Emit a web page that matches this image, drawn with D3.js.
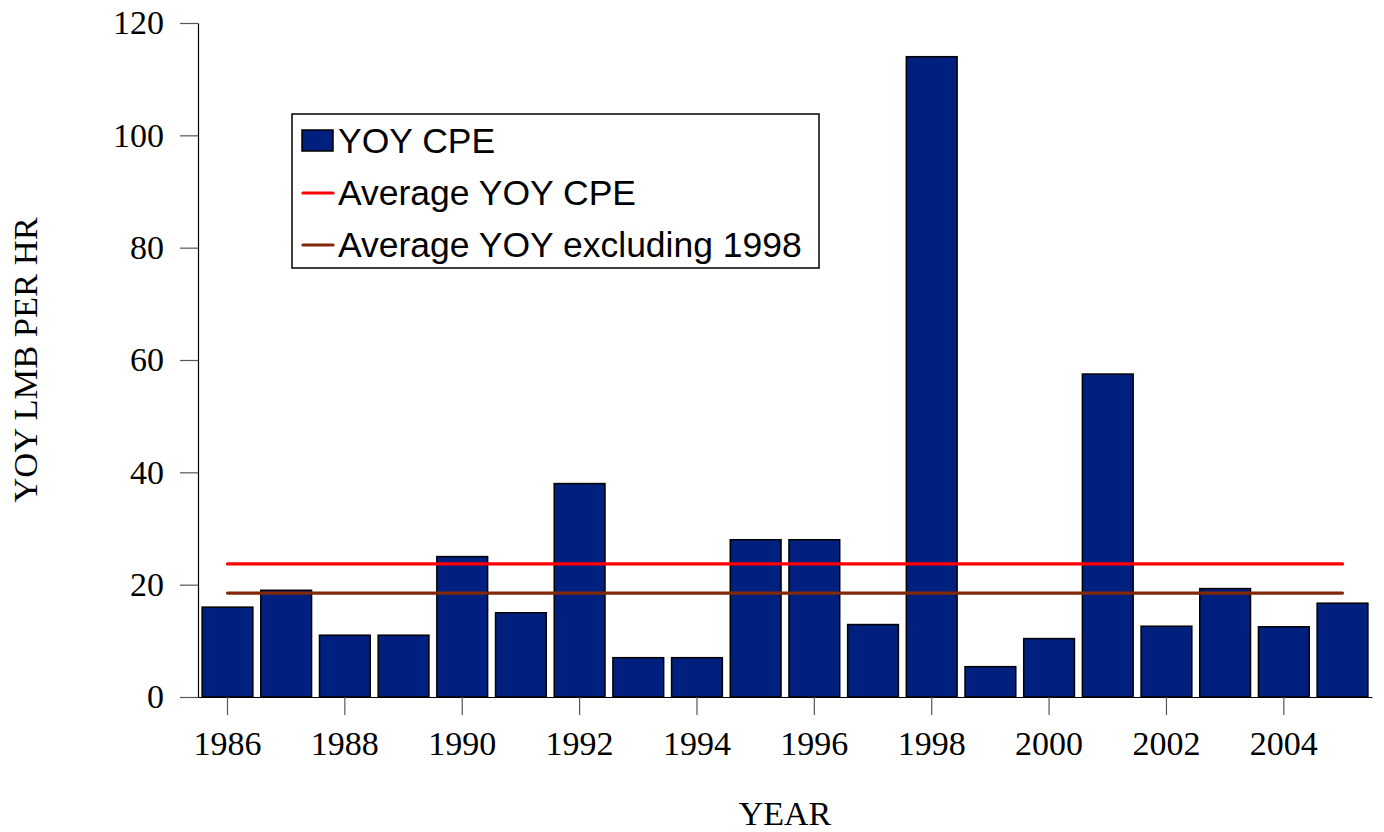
<!DOCTYPE html>
<html>
<head>
<meta charset="utf-8">
<script src="https://cdn.jsdelivr.net/npm/d3@7"></script>
<style>
  body { margin: 0; background: #fff; }
  svg text { fill: #000; }
</style>
</head>
<body>
<div id="chart"></div>
<script>
// Values
const years = [1986, 1987, 1988, 1989, 1990, 1991, 1992, 1993, 1994, 1995,
               1996, 1997, 1998, 1999, 2000, 2001, 2002, 2003, 2004, 2005];
const yoyCpe = [16, 19, 11, 11, 25, 15, 38, 7, 7, 28,
                28, 12.9, 114, 5.4, 10.4, 57.5, 12.6, 19.3, 12.5, 16.7];
const avgYoy = 23.7;
const avgExcl1998 = 18.5;
const yTicks = [0, 20, 40, 60, 80, 100, 120];
const xTickYears = [1986, 1988, 1990, 1992, 1994, 1996, 1998, 2000, 2002, 2004];
const legendLabels = ['YOY CPE', 'Average YOY CPE', 'Average YOY excluding 1998'];

const width = 1384;
const height = 832;
const margin = {top: 23, right: 12, bottom: 135, left: 198};
const plotW = width - margin.left - margin.right;
const plotH = height - margin.top - margin.bottom;

const barColor = '#002080';
const redColor = '#ff0000';
const brownColor = '#802808';

const svg = d3.select('#chart')
    .append('svg')
    .attr('width', width)
    .attr('height', height);

const g = svg.append('g')
    .attr('transform', `translate(${margin.left},${margin.top})`);

const x = d3.scaleBand()
    .domain(years)
    .range([0, plotW])
    .paddingInner(0.135)
    .paddingOuter(0.07);

const y = d3.scaleLinear()
    .domain([0, 120])
    .range([plotH, 0]);

// Bars
g.selectAll('.bar')
    .data(years.map((yr, i) => ({year: yr, value: yoyCpe[i]})))
    .enter().append('rect')
    .attr('class', 'bar')
    .attr('x', d => x(d.year))
    .attr('width', x.bandwidth())
    .attr('y', d => y(d.value))
    .attr('height', d => plotH - y(d.value))
    .attr('fill', barColor)
    .attr('stroke', '#000')
    .attr('stroke-width', 1.5);

// Average lines
const cx = yr => x(yr) + x.bandwidth() / 2;
const avgLines = [
    {value: avgYoy, color: redColor},
    {value: avgExcl1998, color: brownColor}
];
g.selectAll('.avg')
    .data(avgLines)
    .enter().append('line')
    .attr('class', 'avg')
    .attr('x1', cx(years[0]))
    .attr('x2', cx(years[years.length - 1]))
    .attr('y1', d => y(d.value))
    .attr('y2', d => y(d.value))
    .attr('stroke', d => d.color)
    .attr('stroke-width', 3.2)
    .attr('stroke-linecap', 'round');

// Y axis
const yAxis = g.append('g')
    .call(d3.axisLeft(y).tickValues(yTicks).tickSize(18).tickPadding(16).tickSizeOuter(0));
yAxis.select('.domain').attr('stroke', '#000').attr('stroke-width', 1.2);
yAxis.selectAll('.tick line').attr('stroke', '#555').attr('stroke-width', 1.2);
yAxis.selectAll('.tick text')
    .attr('font-family', '"Liberation Serif", "Times New Roman", serif')
    .attr('font-size', 34);

// X axis
const xAxis = g.append('g')
    .attr('transform', `translate(0,${plotH})`)
    .call(d3.axisBottom(x).tickValues(xTickYears).tickSize(18).tickPadding(16).tickSizeOuter(0));
xAxis.select('.domain').attr('stroke', '#000').attr('stroke-width', 1.2);
xAxis.selectAll('.tick line').attr('stroke', '#555').attr('stroke-width', 1.2);
xAxis.selectAll('.tick text')
    .attr('font-family', '"Liberation Serif", "Times New Roman", serif')
    .attr('font-size', 34);

// Axis titles
svg.append('text')
    .attr('x', margin.left + plotW / 2)
    .attr('y', 825)
    .attr('text-anchor', 'middle')
    .attr('font-family', '"Liberation Serif", "Times New Roman", serif')
    .attr('font-size', 34)
    .text('YEAR');

svg.append('text')
    .attr('transform', `translate(37,${margin.top + plotH / 2}) rotate(-90)`)
    .attr('text-anchor', 'middle')
    .attr('font-family', '"Liberation Serif", "Times New Roman", serif')
    .attr('font-size', 34.5)
    .text('YOY LMB PER HR');

// Legend
const legend = svg.append('g').attr('transform', 'translate(292,114)');
legend.append('rect')
    .attr('width', 527)
    .attr('height', 154)
    .attr('fill', '#fff')
    .attr('stroke', '#000')
    .attr('stroke-width', 1.5);

const rowY = [27, 79, 131];
legend.append('rect')
    .attr('x', 10)
    .attr('y', rowY[0] - 11)
    .attr('width', 31)
    .attr('height', 21)
    .attr('fill', barColor)
    .attr('stroke', '#000')
    .attr('stroke-width', 1.5);

[redColor, brownColor].forEach((c, i) => {
    legend.append('line')
        .attr('x1', 11)
        .attr('x2', 41)
        .attr('y1', rowY[i + 1])
        .attr('y2', rowY[i + 1])
        .attr('stroke', c)
        .attr('stroke-width', 3.2)
        .attr('stroke-linecap', 'round');
});

legend.selectAll('.legend-label')
    .data(legendLabels)
    .enter().append('text')
    .attr('class', 'legend-label')
    .attr('x', 46)
    .attr('y', (d, i) => rowY[i])
    .attr('dy', '0.35em')
    .attr('font-family', '"Liberation Sans", Arial, sans-serif')
    .attr('font-size', 35.5)
    .text(d => d);
</script>
</body>
</html>
